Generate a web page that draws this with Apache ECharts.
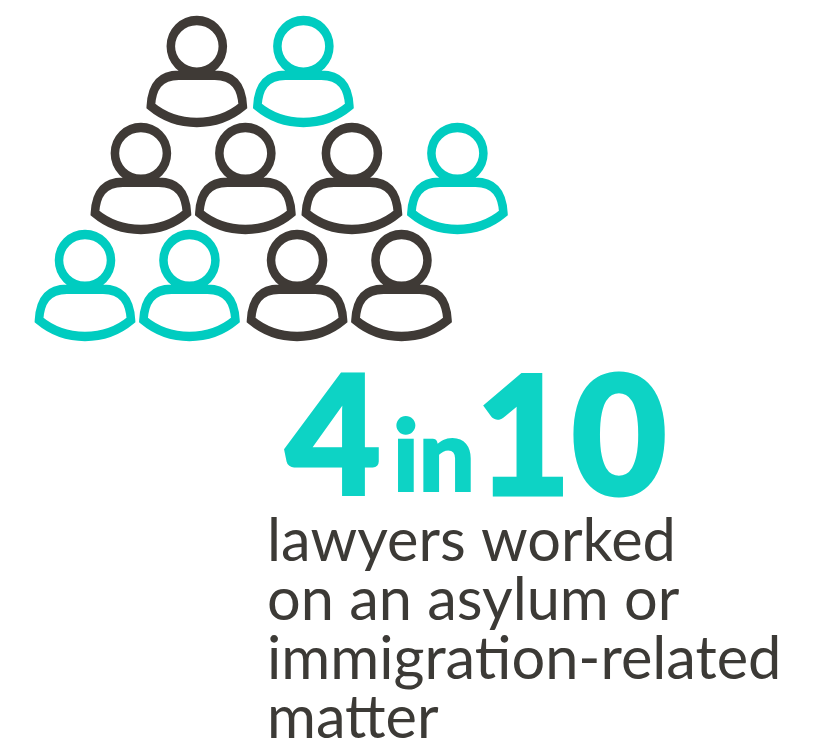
<!DOCTYPE html>
<html><head><meta charset="utf-8">
<style>html,body{margin:0;padding:0;background:#fff}#c{width:820px;height:750px}</style>
<script src="https://cdn.jsdelivr.net/npm/echarts@6/dist/echarts.min.js"></script>
</head><body><div id="c"></div>
<script>
// Pictogram: 10 people, 4 highlighted. Column/row slots on the pictogram grid.
const darkColumns = [1.06, 0.53, 1.52, 2.53, 2.01, 3.0];
const darkRows    = [0, 1, 1, 1, 2, 2];
const tealColumns = [2.07, 3.53, 0, 0.99];
const tealRows    = [0, 1, 2, 2];
const bigNumerator = '4';
const connector = 'in';
const bigDenominator = '10';
const captionLines = ['lawyers worked', 'on an asylum or', 'immigration-related', 'matter'];

const personPath = 'path://M-26 0A26 26 0 1 1 26 0A26 26 0 1 1 -26 0Z' +
  'M-46 60C-45 42 -38 29 -18 29L18 29C38 29 45 42 46 60C20 82 -20 82 -46 60Z';
const zip = (a, b) => a.map((v, i) => [v, b[i]]);
const FONT = 'Lato';
const TEAL_TEXT = '#0DD3C5', TEAL = '#00CCC0', DARK = '#3F3A36', INK = '#3C3A36';
const personSeries = (name, data, color) => ({
  name, type: 'scatter', data, symbol: personPath, symbolSize: [92, 102], silent: true,
  itemStyle: { color: 'rgba(0,0,0,0)', borderColor: color, borderWidth: 9, opacity: 1 }
});
const label = (left, top, text, size, weight, fill, stroke) => ({
  type: 'text', left, top, silent: true,
  style: { text, font: weight + ' ' + size + 'px ' + FONT, fill,
           stroke: stroke ? fill : null, lineWidth: stroke || 0 }
});
const chart = echarts.init(document.getElementById('c'), null, { renderer: 'canvas' });
chart.setOption({
  animation: false, backgroundColor: '#fff',
  grid: { left: 0, right: 0, top: 0, bottom: 0 },
  xAxis: { type: 'value', show: false, min: -0.8057, max: 6.967 },
  yAxis: { type: 'value', show: false, inverse: true, min: -0.668, max: 6.341 },
  series: [personSeries('Other lawyers', zip(darkColumns, darkRows), DARK),
           personSeries('Asylum or immigration matter', zip(tealColumns, tealRows), TEAL)],
  graphic: [
    label(284, 358, bigNumerator, 165, 900, TEAL_TEXT, 3),
    label(392, 409, connector, 99, 900, TEAL_TEXT, 2),
    label(474, 358, bigDenominator, 165, 900, TEAL_TEXT, 3),
    ...captionLines.map((t, i) => label(267, 511.5 + i * 59, t, 59.5, 'normal', INK))
  ]
});
</script></body></html>
